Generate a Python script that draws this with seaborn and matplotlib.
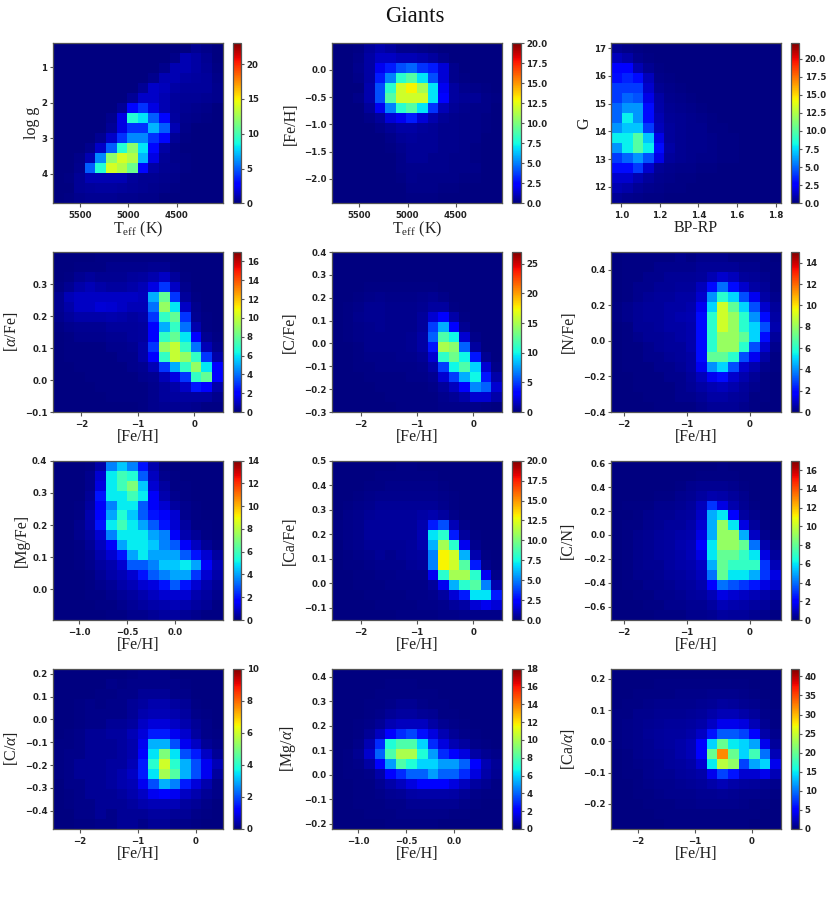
import numpy as np
import pandas as pd
import matplotlib
matplotlib.use("Agg")
import matplotlib.pyplot as plt
import seaborn as sns

# Mean counts per coarse cell, estimated by eye from the reference.
# Rows run top to bottom and columns left to right as displayed.
logg_teff = [
[0,0,0,0,0,0,0,0,0,0,0,0,0,.4,.2,0],
[0,0,0,0,0,0,0,0,0,0,0,.2,1,.8,.4,0],
[0,0,0,0,0,0,0,0,0,0,.3,1,1,.8,.5,.1],
[0,0,0,0,0,0,0,0,0,.3,1,1,.8,.7,.6,.2],
[0,0,0,0,0,0,0,0,.5,1.5,1.2,.8,.6,.6,.6,.3],
[0,0,0,0,0,0,0,.5,1.5,1.5,1,.6,.5,.5,.4,.3],
[0,0,0,0,0,0,.5,3,4,2,1,.6,.4,.3,.2,0],
[0,0,0,0,0,.3,2,9,8,5,3,.7,.3,.2,.1,0],
[0,0,0,0,0,.5,2,4,4,7,5,1,.2,0,0,0],
[0,0,0,0,.4,1.5,4,6,6,4,3,.5,.1,0,0,0],
[0,0,0,.3,1.5,5,9,12,8,3,.8,.2,0,0,0,0],
[0,0,.2,1,6,12,14,13,7,2,.5,.2,.1,0,0,0],
[0,0,.3,5,9,14,13,11,3,.8,.4,.3,.1,0,0,0],
[0,.1,.5,1,1,1,1,.6,.4,.4,.3,.2,0,0,0,0],
[0,0,.5,.6,.7,.7,.6,.5,.4,.3,.2,.1,0,0,0,0],
[0,.1,.3,.4,.4,.4,.3,.3,.2,.2,0,0,0,0,0,0],
]
feh_teff = [
[0,0,.1,.5,.8,.6,.3,.3,.2,.1,0,0,0,0,0,0],
[0,0,.2,.7,1.2,1.2,1,1,.8,.6,.3,0,0,0,0,0],
[0,0,.3,.7,2,3,4,4.5,3.5,3,1.5,.3,0,0,0,0],
[0,0,.2,.7,3,5,8,9,7,4,1.5,.3,.1,0,0,0],
[0,0,0,.8,4,8,12,13,11,7,2,.6,.3,.2,.1,0],
[0,0,.2,.8,4,9,12,12,12,7,2.5,.6,.4,.4,.2,.1],
[0,0,0,.5,2,5,8,9,7,3.5,1,.4,.3,.2,.2,0],
[0,0,0,.2,.5,1.5,2,3,1.5,.8,.4,.3,.2,.2,.1,0],
[0,0,0,0,.2,.4,.7,.7,.5,.4,.3,.3,.2,.2,.1,0],
[0,0,0,0,0,.2,.4,.5,.4,.4,.3,.3,.2,.2,0,0],
[0,0,0,0,0,.1,.3,.4,.4,.4,.3,.3,.2,.1,0,0],
[0,0,0,0,0,0,.2,.4,.4,.3,.3,.2,.2,.1,0,0],
[0,0,0,0,0,0,.2,.3,.3,.3,.3,.2,.2,.2,0,0],
[0,0,0,0,0,0,.1,.3,.2,.2,.2,.2,.1,.1,0,0],
[0,0,0,0,0,0,0,.2,.2,.2,.1,.1,0,0,0,0],
[0,0,0,0,0,0,0,.1,.1,.1,0,0,0,0,0,0],
]
g_bprp = [
[.4,.2,.1,0,0,0,0,0,0,0,0,0,0,0,0,0],
[1.2,.8,.3,.1,.05,0,0,0,0,0,0,0,0,0,0,0],
[2.5,2.5,1,.4,.1,0,0,0,0,0,0,0,0,0,0,0],
[3,3.5,3,1.2,.2,.1,0,0,0,0,0,0,0,0,0,0],
[4,4,4,1.5,.4,.2,.1,0,0,0,0,0,0,0,0,0],
[4,5,4.5,2,.7,.3,.2,.1,0,0,0,0,0,0,0,0],
[5,6,6,3,.8,.4,.3,.2,.1,0,0,0,0,0,0,0],
[5,8,6,3,1,.5,.4,.3,.2,.1,0,0,0,0,0,0],
[6,7,7,4,1.2,.6,.4,.3,.3,.1,.1,0,0,0,0,0],
[8,8,10,7,2,.6,.4,.3,.3,.2,.1,.1,0,0,0,0],
[6,8,10,8,3,.7,.4,.3,.3,.2,.1,.1,0,0,0,0],
[4,5,6,4.5,2,.6,.4,.3,.2,.2,.1,.1,0,0,0,0],
[3,3,4,1.5,.5,.3,.2,.2,.1,.1,0,0,0,0,0,0],
[1.5,1.5,1,.6,.3,.2,.1,.1,0,0,0,0,0,0,0,0],
[1,.8,.5,.3,.2,.1,.1,0,0,0,0,0,0,0,0,0],
[.5,.3,.2,.1,.1,0,0,0,0,0,0,0,0,0,0,0],
]
alpha_feh = [
[0,0,0,0,.1,.1,.1,.1,.1,.1,.1,0,0,0,0,0],
[0,.05,.1,.1,.1,.2,.2,.2,.2,.3,.3,.1,.05,0,0,0],
[0,.1,.3,.4,.3,.3,.3,.4,.5,.7,1,.4,.1,0,0,0],
[.1,.3,.6,.8,.6,.5,.5,.6,.8,1.5,3,1,.2,0,0,0],
[.3,.8,1,1,1,1,1,1,.9,5,8,3,.4,.1,0,0],
[.3,.6,1,1,1.3,1.2,1,.8,.8,4,9,6,1,.2,0,0],
[.2,.4,.6,.6,.6,.7,.6,.5,.6,3,7,8,3,.3,.1,0],
[.1,.2,.3,.3,.3,.4,.4,.4,.5,2,5,7,4,.7,.1,0],
[0,.1,.2,.2,.2,.3,.3,.4,.5,2,7,8,6,2,.3,.1],
[0,.1,.1,.1,.1,.2,.2,.3,.6,3,9,10,7,4,.8,.2],
[0,.1,.1,.1,.1,.1,.2,.2,.6,2,7,10,9,7,3,.6],
[0,0,.1,.1,.1,.1,.1,.2,.3,.8,3,5,7,9,6,2],
[0,0,0,.1,.1,.1,.1,.1,.2,.3,.8,1.5,3,7,8,2],
[0,0,0,0,.1,.1,.1,.1,.1,.2,.4,.6,1,2.5,2,.6],
[0,0,0,0,0,.1,.1,.1,.1,.2,.4,.5,.5,.5,.5,.2],
[0,0,0,0,0,0,0,0,.1,.2,.3,.3,.3,.2,.1,.1],
]
c_feh = [
[0,0,0,0,0,0,0,0,0,0,.05,0,0,0,0,0],
[0,0,0,0,0,.1,.1,.1,.1,.1,.05,0,0,0,0,0],
[0,0,.05,.1,.1,.1,.1,.1,.1,.1,.1,0,0,0,0,0],
[0,.05,.1,.2,.2,.2,.2,.2,.2,.2,.1,.05,0,0,0,0],
[.05,.1,.2,.3,.4,.3,.3,.3,.4,.5,.3,.1,0,0,0,0],
[.05,.2,.3,.5,.5,.4,.4,.4,.5,.8,.8,.2,.05,0,0,0],
[.05,.2,.4,.5,.5,.4,.4,.4,.7,2,3,1,.2,0,0,0],
[.05,.2,.3,.4,.5,.4,.4,.4,.7,5,8,3,.5,.1,0,0],
[.05,.2,.3,.4,.4,.4,.4,.5,.9,6,12,10,2,.3,0,0],
[.05,.1,.2,.4,.4,.4,.4,.5,.9,4,15,14,6,.8,.1,0],
[0,.1,.2,.3,.3,.3,.4,.4,.6,2,11,13,10,4,.5,.1],
[0,.1,.2,.2,.3,.3,.3,.3,.4,1,5,10,12,9,2,.3],
[0,.05,.1,.2,.2,.2,.2,.3,.3,.5,2,5,8,10,4,1],
[0,0,.1,.1,.2,.2,.2,.2,.2,.3,.7,1.5,3,7,6,2],
[0,0,0,.1,.1,.2,.2,.2,.2,.2,.4,.6,1,2,2,1],
[0,0,0,0,.1,.1,.2,.2,.2,.2,.3,.3,.3,.3,.2,.1],
]
n_feh = [
[0,.1,.1,.1,.1,.1,.2,.1,.2,.2,.2,.1,.1,.1,.1,.05],
[.05,.1,.1,.1,.2,.2,.2,.2,.3,.3,.3,.3,.2,.2,.1,.1],
[.05,.1,.1,.2,.2,.3,.3,.3,.4,.7,1,.8,.4,.3,.2,.1],
[.05,.1,.2,.2,.3,.3,.4,.4,.8,2,3.5,2,1,.5,.3,.1],
[.05,.1,.2,.3,.4,.4,.5,.5,1,4,6,5,3,1.5,.5,.2],
[.1,.2,.3,.4,.4,.5,.5,.6,1.5,5,9,7,5,3,1,.4],
[.1,.2,.3,.4,.4,.5,.6,.7,2,6,9,8,6,4,2,.5],
[.05,.1,.3,.3,.4,.5,.5,.6,2,6,9,8,6,5,3,.6],
[.05,.1,.2,.3,.3,.4,.5,.6,2,6,8,8,7,5,2,.4],
[0,.1,.1,.2,.3,.4,.4,.6,2,6,8,8,6,3,1,.2],
[0,.1,.1,.2,.2,.3,.4,.5,2,7,7,6,3,1.5,.5,.1],
[0,.1,.1,.1,.2,.2,.3,.5,1.5,4,5,3,1,.6,.2,.1],
[0,.05,.1,.1,.1,.2,.2,.4,.8,1.5,2,1,.6,.3,.1,0],
[0,0,.1,.1,.1,.1,.2,.3,.5,.7,.8,.6,.4,.2,.1,0],
[0,0,.05,.1,.1,.1,.2,.2,.3,.5,.5,.4,.3,.1,.1,0],
[0,0,0,.05,.1,.1,.1,.1,.2,.3,.3,.3,.2,.1,.05,0],
]
mg_feh = [
[0,0,0,.1,.5,3.5,4.5,3.5,2,.6,.1,0,0,0,0,0],
[0,0,0,.2,1,5,6,5.5,3,.8,.2,.1,0,0,0,0],
[0,0,0,.2,1.2,5,6,7,4.5,1,.4,.1,.1,0,0,0],
[0,0,.05,.3,2,5,5,6,5,1.5,.6,.2,.1,.05,0,0],
[0,0,.1,.4,1.5,3.5,5,5,3,1.5,1,.4,.2,.1,0,0],
[0,0,.1,.6,1.8,4,5.5,4.5,3,2,1.5,1,.2,.1,.05,0],
[0,.05,.2,.6,2,5,6,5,4,3,2,1,.4,.1,.1,0],
[0,.05,.2,.4,1,3.5,5,5,5,4,3.5,1.5,.6,.3,.1,.05],
[0,.05,.1,.3,.8,1.5,4,5,5,4.5,3.5,3,1.5,.8,.3,.1],
[0,0,.1,.2,.6,1,2,4,5,4,4,4,3,2,1,.4],
[0,0,.1,.2,.4,.6,1,3,3,3.5,4.5,4.5,5,4,1.5,.7],
[0,0,0,.1,.3,.5,.7,1,2,3,3.5,4,4,2.5,1,.5],
[0,0,0,.1,.2,.3,.5,.7,1,1.2,2,3,2,1,.6,.3],
[0,0,0,.1,.1,.2,.3,.4,.6,.8,1,1,1,.6,.4,.2],
[0,0,0,0,.1,.1,.2,.3,.4,.5,.6,.7,.6,.4,.3,.1],
[0,0,0,0,0,.1,.1,.2,.2,.3,.4,.4,.3,.2,.1,.1],
]
ca_feh = [
[0,0,0,0,0,.05,.1,.1,.05,0,0,0,0,0,0,0],
[0,0,0,.05,.1,.1,.1,.1,.1,.1,.05,0,0,0,0,0],
[0,0,.05,.1,.1,.2,.2,.2,.2,.2,.1,.05,0,0,0,0],
[0,.05,.1,.2,.3,.3,.3,.3,.3,.3,.2,.1,0,0,0,0],
[.05,.1,.2,.3,.4,.4,.4,.4,.4,.4,.3,.1,.05,0,0,0],
[.05,.2,.3,.4,.5,.5,.5,.5,.7,.8,.6,.2,.05,0,0,0],
[.1,.2,.3,.5,.5,.5,.5,.5,.8,3,4,1,.2,0,0,0],
[.1,.2,.3,.5,.5,.5,.5,.5,.9,7,8,3,.5,.1,0,0],
[.05,.2,.3,.4,.4,.4,.4,.5,.8,6,11,8,2,.3,0,0],
[.05,.1,.2,.3,.4,.3,.4,.5,.6,5,13,12,6,.8,.1,0],
[0,.1,.1,.2,.3,.3,.3,.4,.5,5,13,12,9,3,.3,0],
[0,.05,.1,.1,.2,.2,.3,.3,.3,2,8,11,11,8,2,.2],
[0,0,.1,.1,.1,.2,.2,.2,.2,.5,2,6,8,9,5,.8],
[0,0,0,.1,.1,.1,.1,.2,.2,.3,.6,1.5,3,7,7,3],
[0,0,0,0,.1,.1,.1,.1,.2,.2,.3,.5,.7,1.5,2,1.5],
[0,0,0,0,0,.05,.1,.1,.1,.1,.2,.2,.3,.2,.2,.2],
]
cn_feh = [
[0,0,0,0,0,0,0,0,0,.05,.1,.05,0,0,0,0],
[0,0,0,0,0,0,0,.05,.1,.1,.1,.1,.05,0,0,0],
[0,0,0,0,.05,.05,.1,.2,.3,.3,.3,.2,.1,.05,0,0],
[0,0,.05,.05,.1,.1,.2,.3,.5,.7,.6,.4,.2,.05,0,0],
[0,.1,.1,.1,.2,.2,.3,.4,.9,3,1.5,.7,.3,.1,.05,0],
[0,.05,.1,.2,.3,.3,.4,.5,1,5,6,2,.5,.2,.1,0],
[.05,.1,.1,.2,.3,.4,.4,.6,1.2,5,9,6,1.5,.4,.1,0],
[.05,.1,.2,.3,.4,.5,.6,.7,1.5,5,9,9,5,1,.2,0],
[.05,.1,.2,.3,.4,.5,.7,.8,2,6,9,9,8,4,.7,.2],
[.05,.1,.2,.3,.4,.5,.6,.8,1.5,6,8,8,7,6,1.5,.4],
[.05,.1,.2,.3,.3,.5,.6,.7,1,5,8,7,7,7,3,.8],
[0,.1,.2,.2,.3,.4,.5,.6,.9,4,8,6,6,5,3,1.5],
[0,.1,.1,.2,.2,.3,.4,.5,.7,2,4,3.5,3,2.5,1.5,1],
[0,.05,.1,.1,.2,.2,.3,.4,.5,.8,1.5,1.2,1,.8,.6,.4],
[0,0,.05,.1,.1,.2,.2,.3,.3,.5,.8,.7,.6,.5,.4,.2],
[0,0,0,.05,.1,.1,.1,.2,.2,.3,.5,.4,.4,.3,.2,.1],
]
calpha_feh = [
[0,0,0,0,0,0,0,.05,.1,.1,.1,0,0,0,0,0],
[0,0,0,0,0,.1,.05,.1,.1,.1,.1,.1,.05,0,0,0],
[0,0,0,0,.05,.05,.1,.1,.2,.2,.2,.1,.1,0,0,0],
[0,0,.05,.1,.05,.1,.1,.2,.3,.4,.4,.3,.2,.05,0,0],
[0,0,.05,.1,.1,.1,.1,.2,.4,.5,.5,.4,.3,.1,.05,0],
[0,0,.05,.1,.1,.2,.2,.3,.6,.8,.8,.6,.4,.2,.1,0],
[0,.05,.1,.2,.2,.3,.3,.5,.8,1.5,1.5,1,.7,.3,.1,.05],
[.05,.05,.1,.2,.2,.2,.3,.4,1,3,3,2,1,.6,.2,.1],
[.05,.1,.1,.2,.2,.2,.3,.4,1.2,3.5,5,3.5,2,1.5,.6,.2],
[.05,.1,.2,.2,.2,.3,.3,.5,1.5,4,6,4,3,2,1,.5],
[.05,.1,.2,.2,.2,.3,.4,.6,1.5,3.5,5.5,4.5,3,2,1,.3],
[0,.1,.1,.2,.2,.3,.4,.5,1,2,3,2.5,1.5,.8,.4,.1],
[0,.05,.1,.2,.2,.2,.3,.4,.6,1,1.2,1,.6,.4,.2,.1],
[0,.05,.1,.1,.2,.2,.2,.3,.4,.5,.5,.5,.3,.2,.1,0],
[0,0,.1,.1,.2,.1,.2,.2,.2,.3,.3,.2,.2,.1,.05,0],
[0,0,.05,.05,.1,.1,.2,.2,.1,.2,.2,.1,.1,.05,0,0],
]
mgalpha_feh = [
[0,0,0,0,0,0,.05,.05,0,0,0,0,0,0,0,0],
[0,0,0,.05,.05,.1,.1,.1,.05,.05,0,0,0,0,0,0],
[0,0,0,.05,.1,.1,.1,.1,.1,.1,.05,0,0,0,0,0],
[0,0,0,.1,.1,.2,.3,.3,.2,.1,.1,.05,0,0,0,0],
[0,0,.05,.1,.2,.4,.5,.5,.4,.3,.1,.1,.05,0,0,0],
[0,.05,.1,.2,.4,.8,1,1,1,.6,.3,.2,.1,.05,0,0],
[0,.05,.1,.4,1,2,3,3.5,2.5,1.5,.8,.4,.2,.1,.05,0],
[.05,.05,.2,.8,3,7,8,8,6,3,1.5,.8,.5,.2,.1,.05],
[.05,.1,.3,1.2,4,8,10,10,7,5,3,2,1.5,.6,.3,.2],
[.05,.1,.2,.6,2,5,8,7,6,6,5,5,4,2,.8,.4],
[0,.1,.1,.2,.7,2,3,4,4,5,4,4,3,1.5,.7,.3],
[0,.05,.1,.1,.3,.7,1,1.5,2,2,2,1.5,1,.5,.3,.1],
[0,.05,.1,.1,.2,.3,.4,.6,.7,.7,.7,.6,.4,.2,.1,.1],
[0,0,.1,.1,.1,.2,.2,.3,.3,.3,.3,.3,.2,.1,.05,0],
[0,0,.05,.1,.1,.1,.2,.2,.2,.2,.2,.1,.1,.05,0,0],
[0,0,0,.05,.05,.1,.1,.1,.1,.1,.05,.05,0,0,0,0],
]
caalpha_feh = [
[0,0,0,.1,.1,.1,.1,.1,.1,.1,.1,.1,.1,.1,0,0],
[0,0,.1,.1,.2,.2,.2,.2,.3,.3,.3,.2,.2,.1,.1,0],
[.1,.1,.2,.2,.3,.3,.4,.4,.4,.5,.6,.5,.4,.3,.1,.1],
[.1,.2,.3,.4,.5,.5,.6,.6,.7,.9,1.2,1,.8,.5,.2,.1],
[.2,.3,.5,.6,.7,.7,.8,.9,1,1.5,2,2,1.5,1,.4,.2],
[.2,.4,.6,.8,.9,1,1,1.2,1.5,2.5,4,4,3.5,2,.8,.3],
[.2,.4,.6,.9,1,1.2,1.3,1.5,2.5,6,9,9,8,5,1.5,.5],
[.2,.4,.6,.8,1,1.2,1.5,2,5,14,20,15,14,12,4,1],
[.1,.3,.5,.7,.9,1.1,1.5,2,5,20,32,20,14,18,10,2],
[.1,.2,.4,.6,.8,1,1.3,1.6,3,15,24,22,8,12,14,4],
[.1,.2,.3,.5,.7,.8,1,1.2,1.5,4,8,6,3,3,4,2],
[.1,.1,.2,.4,.5,.6,.7,.9,1,1.5,2,1.5,1.2,1,.8,.5],
[0,.1,.2,.3,.4,.5,.5,.6,.7,.8,.9,.8,.6,.5,.4,.2],
[0,.1,.1,.2,.3,.3,.4,.4,.5,.5,.5,.5,.4,.3,.2,.1],
[0,0,.1,.1,.2,.2,.3,.3,.3,.3,.3,.3,.3,.2,.1,.1],
[0,0,0,.1,.1,.2,.2,.2,.2,.3,.2,.2,.2,.1,.1,0],
]

FEH = "[Fe/H]"
TEFF = r"T$_{\mathrm{eff}}$ (K)"
panels = [
 (logg_teff, TEFF, "log g", (5780,4025), (4.83,.33), [5500,5000,4500], [1,2,3,4], 23, [0,5,10,15,20]),
 (feh_teff, TEFF, FEH, (5780,4025), (-2.45,.49), [5500,5000,4500], [0,-.5,-1,-1.5,-2], 20, list(np.arange(0,20.1,2.5))),
 (g_bprp, "BP-RP", "G", (.948,1.828), (11.41,17.17), [1,1.2,1.4,1.6,1.8], [12,13,14,15,16,17], 22.1, list(np.arange(0,20.1,2.5))),
 (alpha_feh, FEH, r"[$\alpha$/Fe]", (-2.5,.5), (-.1,.4), [-2,-1,0], [-.1,0,.1,.2,.3], 17, list(range(0,17,2))),
 (c_feh, FEH, "[C/Fe]", (-2.5,.5), (-.3,.4), [-2,-1,0], [-.3,-.2,-.1,0,.1,.2,.3,.4], 27, [0,5,10,15,20,25]),
 (n_feh, FEH, "[N/Fe]", (-2.2,.5), (-.4,.5), [-2,-1,0], [-.4,-.2,0,.2,.4], 15, list(range(0,15,2))),
 (mg_feh, FEH, "[Mg/Fe]", (-1.27,.49), (-.095,.4), [-1,-.5,0], [0,.1,.2,.3,.4], 14, list(range(0,15,2))),
 (ca_feh, FEH, "[Ca/Fe]", (-2.5,.5), (-.15,.5), [-2,-1,0], [-.1,0,.1,.2,.3,.4,.5], 20, list(np.arange(0,20.1,2.5))),
 (cn_feh, FEH, "[C/N]", (-2.2,.5), (-.71,.62), [-2,-1,0], [-.6,-.4,-.2,0,.2,.4,.6], 17, list(range(0,17,2))),
 (calpha_feh, FEH, r"[C/$\alpha$]", (-2.47,.47), (-.48,.222), [-2,-1,0], [-.4,-.3,-.2,-.1,0,.1,.2], 10, [0,2,4,6,8,10]),
 (mgalpha_feh, FEH, r"[Mg/$\alpha$]", (-1.267,.49), (-.222,.433), [-1,-.5,0], [-.2,-.1,0,.1,.2,.3,.4], 18, list(range(0,19,2))),
 (caalpha_feh, FEH, r"[Ca/$\alpha$]", (-2.46,.508), (-.281,.233), [-2,-1,0], [-.2,-.1,0,.1,.2], 42, list(range(0,41,5))),
]

W, H = 831, 906
col_x = [(53, 222.7, 232.7, 241.3), (332.3, 501.7, 512, 520.7), (611.3, 781, 791, 799.3)]
row_y = [(43.3, 203.3), (252, 412), (460.7, 620), (668.7, 829)]
ylabel_px = [32, 291, 584, 11, 290, 569, 22, 290, 568, 11, 288, 568]
GREY = "#555555"
TXT = "#222222"

matplotlib.colormaps.register(matplotlib.colormaps["jet"].copy(), name="giants_cmap")

sns.set_theme(style="ticks")
plt.rcParams.update({
    "font.family": ["DejaVu Sans"], "mathtext.fontset": "custom",
    "mathtext.rm": "Liberation Serif", "mathtext.it": "Liberation Serif:italic",
    "mathtext.bf": "Liberation Serif:bold",
    "axes.edgecolor": GREY, "axes.linewidth": 0.9,
    "xtick.color": GREY, "ytick.color": GREY,
    "xtick.labelcolor": TXT, "ytick.labelcolor": TXT,
    "xtick.major.size": 3, "ytick.major.size": 2.5,
    "xtick.major.width": .8, "ytick.major.width": .8,
    "xtick.major.pad": 2.5, "ytick.major.pad": 1.5,
    "xtick.labelsize": 6.2, "ytick.labelsize": 6.2,
})

fig = plt.figure(figsize=(W/100, H/100), dpi=100)

def rect(x0, x1, y0, y1):
    return [x0/W, 1-y1/H, (x1-x0)/W, (y1-y0)/H]

for i, (grid, xl, yl, xlim, ylim, xt, yt, vmax, ct) in enumerate(panels):
    x0, x1, c0, c1 = col_x[i % 3]
    y0, y1 = row_y[i // 3]
    ax = fig.add_axes(rect(x0, x1, y0, y1))
    cax = fig.add_axes(rect(c0, c1, y0, y1))
    z = np.array(grid, dtype=float)
    nr, nc = z.shape
    xe = np.linspace(xlim[0], xlim[1], nc+1)
    ye = np.linspace(ylim[1], ylim[0], nr+1)  # top row first
    xc, yc = (xe[:-1]+xe[1:])/2, (ye[:-1]+ye[1:])/2
    X, Y = np.meshgrid(xc, yc)
    df = pd.DataFrame({"x": X.ravel(), "y": Y.ravel(), "n": z.ravel()})
    sns.histplot(data=df, x="x", y="y", weights="n",
                 bins=[np.sort(xe), np.sort(ye)], thresh=None, cmap="giants_cmap",
                 vmin=0, vmax=vmax, cbar=True, cbar_ax=cax, ax=ax, linewidth=0)
    ax.set_xlim(*xlim); ax.set_ylim(*ylim)
    ax.set_xticks(xt); ax.set_yticks(yt)
    ax.set_xlabel(xl, family="Liberation Serif", fontsize=11.5, color=TXT, labelpad=0)
    ax.set_ylabel(yl, family="Liberation Serif", fontsize=11.5, color=TXT, va="center")
    ax.yaxis.set_label_coords((ylabel_px[i]-x0)/(x1-x0), .5)
    cax.set_yticks(ct)
    cax.tick_params(labelsize=6.2, length=2.5, color=GREY)
    for s in cax.spines.values():
        s.set_edgecolor(GREY)
    for t in ax.get_xticklabels() + ax.get_yticklabels() + cax.get_yticklabels():
        t.set_fontweight("bold")

fig.text(415/W, 1-16/H, "Giants", family="Liberation Serif", fontsize=16.5,
         color="#111111", ha="center", va="center")
fig.savefig("out.png", dpi=100)
